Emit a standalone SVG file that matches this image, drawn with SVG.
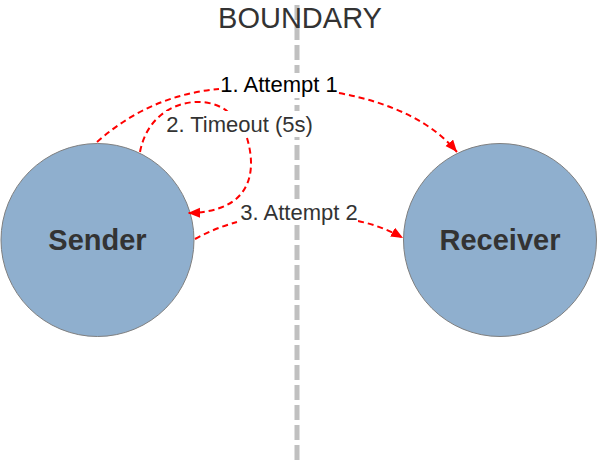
<svg xmlns="http://www.w3.org/2000/svg" width="598" height="464" viewBox="0 0 598 464">
<defs>
<style>
.node{fill:#8FAFCE;stroke:#808080;stroke-width:1}
.nlabel{font-family:"Liberation Sans",Arial,sans-serif;font-weight:bold;font-size:29px;fill:#333333;text-anchor:middle}
.elabel{font-family:"Liberation Sans",Arial,sans-serif;font-size:22px;fill:#333333;text-anchor:middle}
.lbg{fill:#FFFFFF;stroke:none}
.edge{fill:none;stroke:#FF0000;stroke-width:2;stroke-dasharray:6 4}
.boundary{stroke:#C0C0C0;stroke-width:5;stroke-dasharray:15 5;fill:none}
</style>
<marker id="arrow" markerUnits="userSpaceOnUse" markerWidth="14" markerHeight="12" refX="12" refY="5" orient="auto">
<path d="M0,0 L12,5 L0,10 Z" fill="#FF0000" stroke="none"/>
</marker>
</defs>
<rect width="598" height="464" fill="#FFFFFF"/>
<g id="boundary">
<line class="boundary" x1="297" y1="5" x2="297" y2="461"/>
<text x="300" y="28" style="font-family:'Liberation Sans',Arial,sans-serif;font-size:29px;fill:#333333;text-anchor:middle">BOUNDARY</text>
</g>
<g id="sender">
<circle class="node" cx="97.5" cy="240" r="96.5"/>
<text class="nlabel" x="97.5" y="250">Sender</text>
</g>
<g id="receiver">
<circle class="node" cx="500" cy="240" r="96.5"/>
<text class="nlabel" x="500" y="250">Receiver</text>
</g>
<g id="connectors">
<path class="edge" d="M97,142 Q150,95 219,89"/>
<path class="edge" d="M339,93 Q420,108 457,152" marker-end="url(#arrow)"/>
<path class="edge" d="M140,152 C150,100 205,92 228,112"/>
<path class="edge" d="M247,138 C256,168 255,212 188,213" marker-end="url(#arrow)"/>
<path class="edge" d="M195,239 Q215,228 237,222"/>
<path class="edge" d="M358,221 Q382,226 403,238" marker-end="url(#arrow)"/>
<rect class="lbg" x="220" y="73" width="118" height="25"/>
<rect class="lbg" x="166" y="111" width="147" height="26"/>
<rect class="lbg" x="240" y="199" width="118" height="26"/>
<text class="elabel" x="279" y="92" style="fill:#000000">1. Attempt 1</text>
<text class="elabel" x="239.5" y="132">2. Timeout (5s)</text>
<text class="elabel" x="299" y="220">3. Attempt 2</text>
</g>
</svg>
